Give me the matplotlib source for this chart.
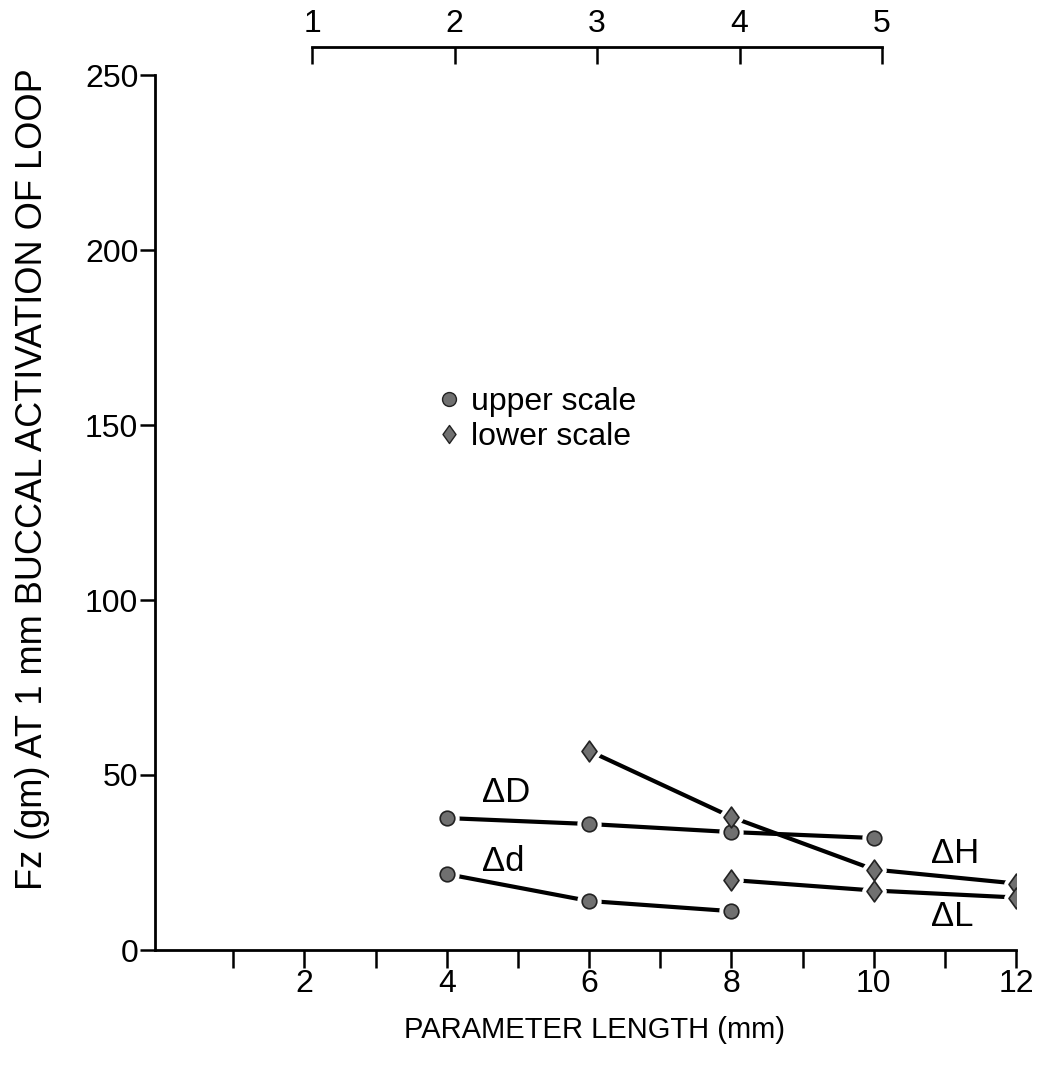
import matplotlib.pyplot as plt
from matplotlib.lines import Line2D
from matplotlib.path import Path

# upper scale series (circles), plotted against lower-axis mm
D_x = [4, 6, 8, 10]
D_y = [37.7, 36.0, 33.7, 32.0]
d_x = [4, 6, 8]
d_y = [21.7, 14.0, 11.1]
# lower scale series (diamonds)
H_x = [6, 8, 10, 12]
H_y = [56.9, 38.0, 23.0, 19.0]
L_x = [8, 10, 12]
L_y = [20.0, 17.0, 15.0]

upper_ticks = [1, 2, 3, 4, 5]
y_ticks = [0, 50, 100, 150, 200, 250]
x_major = [2, 4, 6, 8, 10, 12]
x_minor = [1, 3, 5, 7, 9, 11]

plt.rcParams['font.family'] = ['Liberation Sans', 'DejaVu Sans']

W, H = 1039, 1073
fig = plt.figure(figsize=(W / 100, H / 100), dpi=100)
ax = fig.add_axes([155 / W, (H - 950) / H, (1016 - 155) / W, 875 / H])
ax.set_xlim(-0.1, 12.0)
ax.set_ylim(0, 250)

fill = '#707070'
lw = 3.0
diamond = Path([(0, 1), (0.72, 0), (0, -1), (-0.72, 0), (0, 1)],
               [Path.MOVETO, Path.LINETO, Path.LINETO, Path.LINETO, Path.CLOSEPOLY])


def series(x, y, marker, ms):
    ax.plot(x, y, color='black', lw=lw, solid_capstyle='butt', zorder=2)
    ax.plot(x, y, ls='none', marker=marker, ms=ms, mfc='white', mec='white', mew=7, zorder=3)
    ax.plot(x, y, ls='none', marker=marker, ms=ms, mfc=fill, mec='#222222', mew=1.2, zorder=4)


series(D_x, D_y, 'o', 10.5)
series(d_x, d_y, 'o', 10.5)
series(H_x, H_y, diamond, 15)
series(L_x, L_y, diamond, 15)

tfs = 25
ax.text(4.5, 45.1, 'ΔD', fontsize=tfs, va='center', ha='left')
ax.text(4.5, 25.4, 'Δd', fontsize=tfs, va='center', ha='left')
ax.text(10.8, 27.7, 'ΔH', fontsize=tfs, va='center', ha='left')
ax.text(10.8, 9.7, 'ΔL', fontsize=tfs, va='center', ha='left')

handles = [Line2D([], [], ls='none', marker='o', ms=10, mfc=fill, mec='#222222', mew=1.0),
           Line2D([], [], ls='none', marker=diamond, ms=13, mfc=fill, mec='#222222', mew=1.0)]
ax.legend(handles, ['upper scale', 'lower scale'], loc='center left',
          bbox_to_anchor=(3.6, 151.5), bbox_transform=ax.transData,
          frameon=False, fontsize=23, handlelength=0.5, handletextpad=0.45,
          labelspacing=0.15, borderpad=0.2)

for s in ['top', 'right']:
    ax.spines[s].set_visible(False)
for s in ['left', 'bottom']:
    ax.spines[s].set_linewidth(2.0)

ax.set_yticks(y_ticks)
ax.set_xticks(x_major)
ax.set_xticks(x_minor, minor=True)
ax.tick_params(axis='y', direction='out', length=11, width=1.8, pad=1, labelsize=23)
ax.tick_params(axis='x', which='both', direction='out', length=13, width=1.8, pad=1, labelsize=23)
ax.tick_params(axis='x', which='minor', labelbottom=False)

ax.set_xlabel('PARAMETER LENGTH (mm)', fontsize=21)
ax.xaxis.set_label_coords(0.51, -0.075)
ax.set_ylabel('Fz (gm) AT 1 mm BUCCAL ACTIVATION OF LOOP', fontsize=26)
ax.yaxis.set_label_coords(-0.122, 0.538)

# upper scale, drawn as a separate axis line above the plot
top = fig.add_axes([312 / W, (H - 48) / H, (882 - 312) / W, 0.001])
top.set_xlim(1, 5)
top.set_xticks(upper_ticks)
top.set_yticks([])
for s in ['left', 'right', 'bottom']:
    top.spines[s].set_visible(False)
top.spines['top'].set_linewidth(2.0)
top.patch.set_visible(False)
top.tick_params(axis='x', top=True, bottom=False, labeltop=True, labelbottom=False,
                direction='in', length=12, width=1.8, pad=6, labelsize=23)

fig.savefig('out.png', dpi=100)
